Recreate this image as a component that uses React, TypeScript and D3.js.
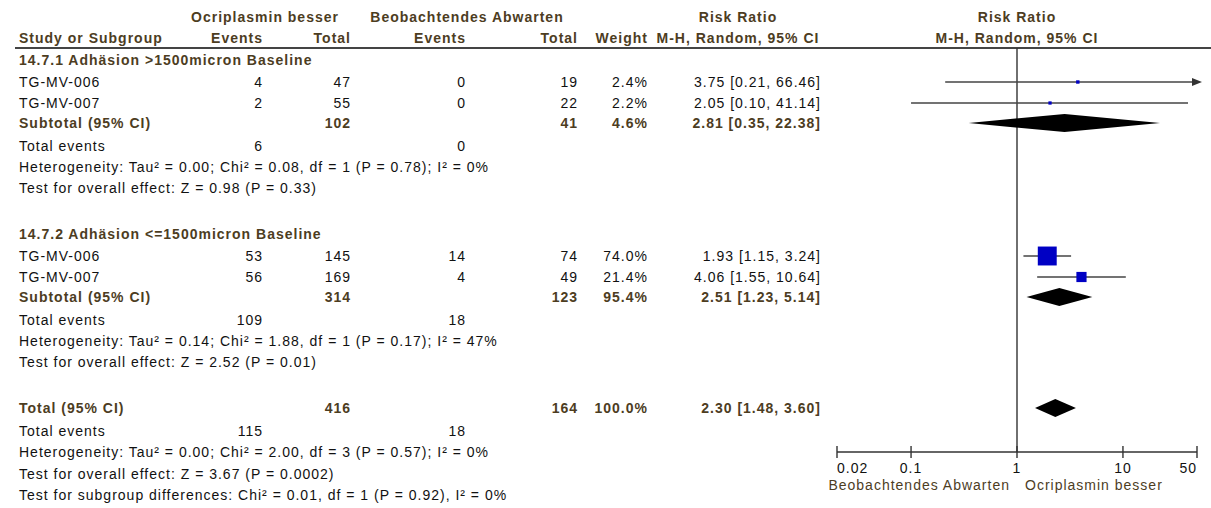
import * as d3 from 'd3';

// forest plot data
const groupTitles = ['14.7.1 Adhäsion >1500micron Baseline', '14.7.2 Adhäsion <=1500micron Baseline'];
const studyNames = [['TG-MV-006', 'TG-MV-007'], ['TG-MV-006', 'TG-MV-007']];
const expEvents = [[4, 2], [53, 56]];
const expTotals = [[47, 55], [145, 169]];
const ctrlEvents = [[0, 0], [14, 4]];
const ctrlTotals = [[19, 22], [74, 49]];
const studyWeights = [[2.4, 2.2], [74.0, 21.4]];
const studyRR = [[3.75, 2.05], [1.93, 4.06]];
const studyLow = [[0.21, 0.10], [1.15, 1.55]];
const studyHigh = [[66.46, 41.14], [3.24, 10.64]];

const subExpTotal = [102, 314];
const subCtrlTotal = [41, 123];
const subWeight = [4.6, 95.4];
const subRR = [2.81, 2.51];
const subLow = [0.35, 1.23];
const subHigh = [22.38, 5.14];
const subExpEvents = [6, 109];
const subCtrlEvents = [0, 18];
const subHeterogeneity = [
  'Heterogeneity: Tau² = 0.00; Chi² = 0.08, df = 1 (P = 0.78); I² = 0%',
  'Heterogeneity: Tau² = 0.14; Chi² = 1.88, df = 1 (P = 0.17); I² = 47%',
];
const subOverall = ['Test for overall effect: Z = 0.98 (P = 0.33)', 'Test for overall effect: Z = 2.52 (P = 0.01)'];

const totalExpTotal = 416;
const totalCtrlTotal = 164;
const totalWeight = 100.0;
const totalRR = [2.30, 1.48, 3.60];
const totalEvents = [115, 18];
const totalNotes = [
  'Heterogeneity: Tau² = 0.00; Chi² = 2.00, df = 3 (P = 0.57); I² = 0%',
  'Test for overall effect: Z = 3.67 (P = 0.0002)',
  'Test for subgroup differences: Chi² = 0.01, df = 1 (P = 0.92), I² = 0%',
];

const axisTicks = [0.02, 0.1, 1, 10, 50];
const axisLabels = ['0.02', '0.1', '1', '10', '50'];
const favourLabels = ['Beobachtendes Abwarten', 'Ocriplasmin besser'];

const W = 1211;
const H = 508;
const HEAD = '#4d3d1f';
const FONT = '"Liberation Sans", Arial, sans-serif';
const FS = 14;
const LS = 1.0;

const col = { name: 19, ee: 263, et: 351, ce: 466, ct: 578, w: 648, rr: 821 };

const x = d3.scaleLog().domain([0.02, 50]).range([837, 1197]);

const fmtRR = (m: number, lo: number, hi: number) => `${m.toFixed(2)} [${lo.toFixed(2)}, ${hi.toFixed(2)}]`;
const fmtW = (w: number) => `${w.toFixed(1)}%`;

type Row =
  | { kind: 'title'; y: number; text: string }
  | { kind: 'study'; y: number; g: number; i: number }
  | { kind: 'sub'; y: number; g: number }
  | { kind: 'events'; y: number; a: number; b: number }
  | { kind: 'note'; y: number; text: string }
  | { kind: 'total'; y: number };

// build the rows, stacking downward
const rows: Row[] = [];
let cy = 60;
groupTitles.forEach((t, g) => {
  if (g > 0) cy += 46;
  rows.push({ kind: 'title', y: cy, text: t });
  cy += 22;
  studyNames[g].forEach((_, i) => {
    if (i > 0) cy += 21;
    rows.push({ kind: 'study', y: cy, g, i });
  });
  cy += 20;
  rows.push({ kind: 'sub', y: cy, g });
  cy += 23;
  rows.push({ kind: 'events', y: cy, a: subExpEvents[g], b: subCtrlEvents[g] });
  cy += 21;
  rows.push({ kind: 'note', y: cy, text: subHeterogeneity[g] });
  cy += 21;
  rows.push({ kind: 'note', y: cy, text: subOverall[g] });
});
cy += 46;
rows.push({ kind: 'total', y: cy });
cy += 23;
rows.push({ kind: 'events', y: cy, a: totalEvents[0], b: totalEvents[1] });
totalNotes.forEach((t) => {
  cy += 21.5;
  rows.push({ kind: 'note', y: cy, text: t });
});

const axisY = 452;

const T = (props: any) => (
  <text
    dy="0.35em"
    fontFamily={FONT}
    fontSize={FS}
    letterSpacing={LS}
    fill={props.bold ? HEAD : '#111'}
    fontWeight={props.bold ? 'bold' : 'normal'}
    {...props}
  />
);

const Diamond = ({ y, m, lo, hi }: { y: number; m: number; lo: number; hi: number }) => {
  const h = 9;
  const pts = [[x(lo), y], [x(m), y - h], [x(hi), y], [x(m), y + h]];
  return <polygon points={pts.map((p) => p.join(',')).join(' ')} fill="#000" />;
};

const StudyMark = ({ y, m, lo, hi, w }: { y: number; m: number; lo: number; hi: number; w: number }) => {
  const [d0, d1] = x.domain();
  const x0 = x(Math.max(lo, d0));
  const x1 = x(Math.min(hi, d1));
  const side = Math.max(3, 2.2 * Math.sqrt(w));
  return (
    <g>
      <line x1={x0} x2={hi > d1 ? x1 - 4 : x1} y1={y} y2={y} stroke="#444" strokeWidth={1.4} />
      {hi > d1 && <polygon points={`${x1 - 5},${y - 4} ${x1 + 5},${y} ${x1 - 5},${y + 4}`} fill="#333" />}
      <rect x={x(m) - side / 2} y={y - side / 2} width={side} height={side} fill="#0000c4" />
    </g>
  );
};

export default function App() {
  return (
    <div style={{ position: 'absolute', left: 0, top: 0 }}>
      <svg width={W} height={H} style={{ display: 'block', background: '#fff' }}>
        {/* headers */}
        <T bold x={265} y={17} textAnchor="middle">Ocriplasmin besser</T>
        <T bold x={467} y={17} textAnchor="middle">Beobachtendes Abwarten</T>
        <T bold x={738} y={17} textAnchor="middle">Risk Ratio</T>
        <T bold x={x(1)} y={17} textAnchor="middle">Risk Ratio</T>
        <T bold x={col.name} y={38}>Study or Subgroup</T>
        <T bold x={col.ee} y={38} textAnchor="end">Events</T>
        <T bold x={col.et} y={38} textAnchor="end">Total</T>
        <T bold x={col.ce} y={38} textAnchor="end">Events</T>
        <T bold x={col.ct} y={38} textAnchor="end">Total</T>
        <T bold x={col.w} y={38} textAnchor="end">Weight</T>
        <T bold x={738} y={38} textAnchor="middle">M-H, Random, 95% CI</T>
        <T bold x={x(1)} y={38} textAnchor="middle">M-H, Random, 95% CI</T>
        <line x1={15} x2={W} y1={48} y2={48} stroke="#444" strokeWidth={2} />

        {/* null line */}
        <line x1={x(1)} x2={x(1)} y1={48} y2={axisY} stroke="#333" strokeWidth={1.4} />

        {rows.map((r, k) => {
          if (r.kind === 'title') return <T key={k} bold x={col.name} y={r.y}>{r.text}</T>;
          if (r.kind === 'note') return <T key={k} x={col.name} y={r.y}>{r.text}</T>;
          if (r.kind === 'events')
            return (
              <g key={k}>
                <T x={col.name} y={r.y}>Total events</T>
                <T x={col.ee} y={r.y} textAnchor="end">{r.a}</T>
                <T x={col.ce} y={r.y} textAnchor="end">{r.b}</T>
              </g>
            );
          if (r.kind === 'study') {
            const { g, i } = r;
            return (
              <g key={k}>
                <T x={col.name} y={r.y}>{studyNames[g][i]}</T>
                <T x={col.ee} y={r.y} textAnchor="end">{expEvents[g][i]}</T>
                <T x={col.et} y={r.y} textAnchor="end">{expTotals[g][i]}</T>
                <T x={col.ce} y={r.y} textAnchor="end">{ctrlEvents[g][i]}</T>
                <T x={col.ct} y={r.y} textAnchor="end">{ctrlTotals[g][i]}</T>
                <T x={col.w} y={r.y} textAnchor="end">{fmtW(studyWeights[g][i])}</T>
                <T x={col.rr} y={r.y} textAnchor="end">{fmtRR(studyRR[g][i], studyLow[g][i], studyHigh[g][i])}</T>
                <StudyMark y={r.y} m={studyRR[g][i]} lo={studyLow[g][i]} hi={studyHigh[g][i]} w={studyWeights[g][i]} />
              </g>
            );
          }
          if (r.kind === 'sub') {
            const { g } = r;
            return (
              <g key={k}>
                <T bold x={col.name} y={r.y}>Subtotal (95% CI)</T>
                <T bold x={col.et} y={r.y} textAnchor="end">{subExpTotal[g]}</T>
                <T bold x={col.ct} y={r.y} textAnchor="end">{subCtrlTotal[g]}</T>
                <T bold x={col.w} y={r.y} textAnchor="end">{fmtW(subWeight[g])}</T>
                <T bold x={col.rr} y={r.y} textAnchor="end">{fmtRR(subRR[g], subLow[g], subHigh[g])}</T>
                <Diamond y={r.y} m={subRR[g]} lo={subLow[g]} hi={subHigh[g]} />
              </g>
            );
          }
          return (
            <g key={k}>
              <T bold x={col.name} y={r.y}>Total (95% CI)</T>
              <T bold x={col.et} y={r.y} textAnchor="end">{totalExpTotal}</T>
              <T bold x={col.ct} y={r.y} textAnchor="end">{totalCtrlTotal}</T>
              <T bold x={col.w} y={r.y} textAnchor="end">{fmtW(totalWeight)}</T>
              <T bold x={col.rr} y={r.y} textAnchor="end">{fmtRR(totalRR[0], totalRR[1], totalRR[2])}</T>
              <Diamond y={r.y} m={totalRR[0]} lo={totalRR[1]} hi={totalRR[2]} />
            </g>
          );
        })}

        {/* axis */}
        <line x1={x(0.02)} x2={x(50)} y1={axisY} y2={axisY} stroke="#333" strokeWidth={1.4} />
        {axisTicks.map((t, i) => (
          <g key={t}>
            <line x1={x(t)} x2={x(t)} y1={axisY - 6} y2={axisY + 6} stroke="#333" strokeWidth={1.4} />
            <T
              x={x(t)}
              y={axisY + 16}
              textAnchor={i === 0 ? 'start' : i === axisTicks.length - 1 ? 'end' : 'middle'}
            >
              {axisLabels[i]}
            </T>
          </g>
        ))}
        <T x={x(1) - 7} y={axisY + 33} textAnchor="end" fill={HEAD}>{favourLabels[0]}</T>
        <T x={x(1) + 8} y={axisY + 33} fill={HEAD}>{favourLabels[1]}</T>
      </svg>
    </div>
  );
}
